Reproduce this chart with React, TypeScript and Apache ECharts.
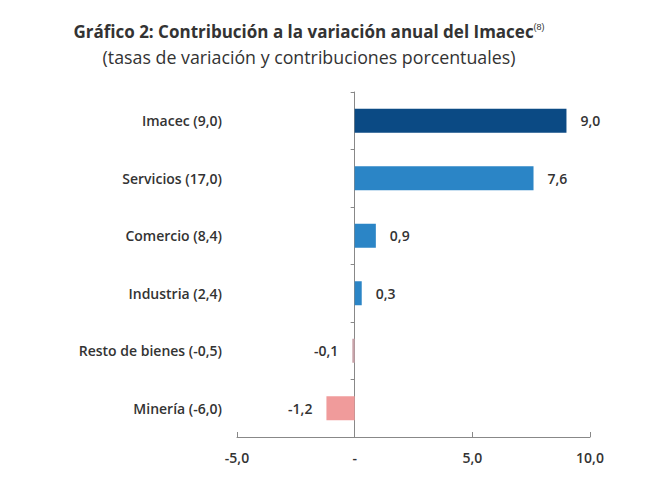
import React, { useEffect, useRef } from "react";
import * as echarts from "echarts";

const categories = [
  "Imacec (9,0)",
  "Servicios (17,0)",
  "Comercio (8,4)",
  "Industria (2,4)",
  "Resto de bienes (-0,5)",
  "Minería (-6,0)",
];
const values = [9.0, 7.6, 0.9, 0.3, -0.1, -1.2];
const barColors = ["#0B4A84", "#2B85C6", "#2B85C6", "#2B85C6", "#C9A3AA", "#F09B9B"];
const xTicks = { min: -5, max: 10, interval: 5 };

const fmt = (v: number) => (v === 0 ? "-" : v.toFixed(1).replace(".", ","));
const FONT = "Open Sans";

export default function App() {
  const ref = useRef<HTMLDivElement>(null);
  useEffect(() => {
    document.body.style.margin = "0";
    const chart = echarts.init(ref.current!, null, { renderer: "svg" });
    chart.setOption({
      animation: false,
      backgroundColor: "#ffffff",
      graphic: [
        {
          type: "text",
          x: 309,
          y: 31,
          style: {
            text: "Gráfico 2: Contribución a la variación anual del Imacec{sup|(8)}",
            rich: { sup: { fontSize: 9, verticalAlign: "top", padding: [0, 0, 9, 0], fill: "#333" } },
            font: `bold 17px ${FONT}`,
            fill: "#333",
            textAlign: "center",
            textVerticalAlign: "middle",
          },
        },
        {
          type: "text",
          x: 309,
          y: 57,
          style: {
            text: "(tasas de variación y contribuciones porcentuales)",
            font: `17.8px ${FONT}`,
            fill: "#333",
            textAlign: "center",
            textVerticalAlign: "middle",
          },
        },
      ],
      grid: { left: 237, right: 60, top: 92, bottom: 50, containLabel: false, outerBoundsMode: "none" },
      xAxis: {
        type: "value",
        min: xTicks.min,
        max: xTicks.max,
        interval: xTicks.interval,
        splitLine: { show: false },
        axisLine: { show: true, lineStyle: { color: "#888", width: 1 } },
        axisTick: { show: true, inside: true, length: 5, lineStyle: { color: "#888" } },
        axisLabel: {
          formatter: fmt,
          color: "#333",
          fontFamily: FONT,
          fontWeight: 600,
          fontSize: 14,
          margin: 13,
        },
      },
      yAxis: {
        type: "category",
        data: categories,
        inverse: true,
        axisLine: { show: true, onZero: true, lineStyle: { color: "#888", width: 1 } },
        axisTick: { show: true, length: 4, lineStyle: { color: "#888" } },
        axisLabel: {
          color: "#333",
          fontFamily: FONT,
          fontWeight: 600,
          fontSize: 14,
          margin: 15,
        },
      },
      series: [
        {
          type: "bar",
          barWidth: 24,
          data: values.map((v, i) => ({
            value: v,
            itemStyle: { color: barColors[i] },
            label: {
              show: true,
              position: v >= 0 ? "right" : "left",
              distance: 14,
              formatter: () => fmt(v),
              color: "#333",
              fontFamily: FONT,
              fontWeight: 600,
              fontSize: 14,
            },
          })),
        },
      ],
    });
    return () => chart.dispose();
  }, []);
  return <div ref={ref} style={{ width: 650, height: 487 }} />;
}
